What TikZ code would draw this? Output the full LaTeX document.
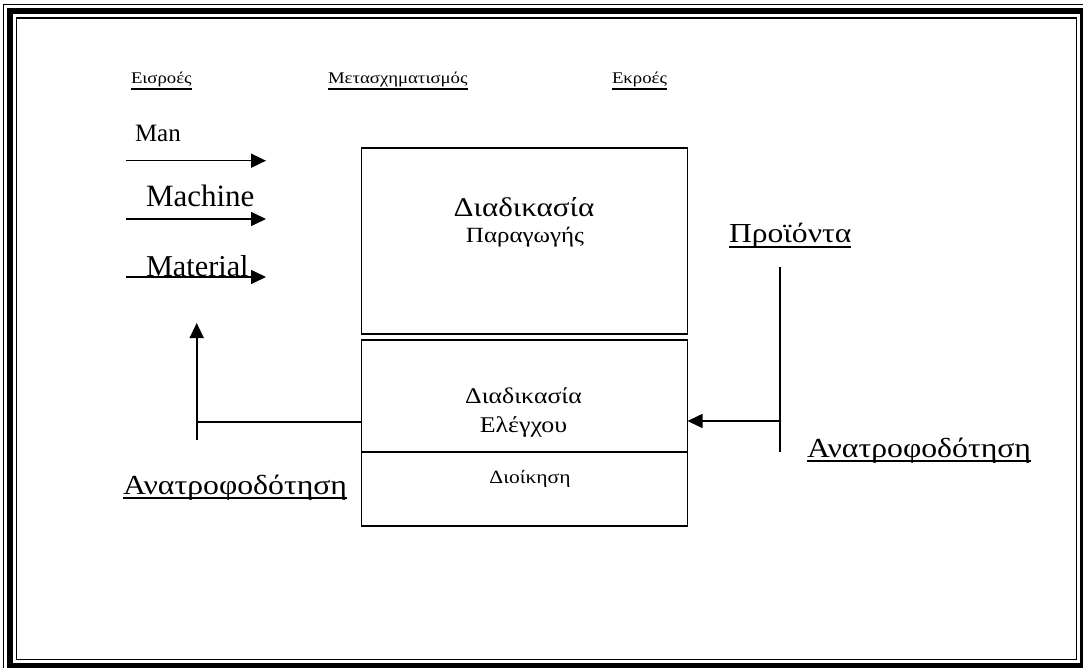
\documentclass[tikz,border=0pt]{standalone}
\usepackage{fontspec}
\setmainfont{Liberation Serif}
\newfontfamily\grk[FakeStretch=1.15]{Liberation Serif}
\usetikzlibrary{arrows.meta}
\begin{document}
\begin{tikzpicture}[x=1pt,y=-1pt,
  box/.style={draw, line width=1.7pt, inner sep=0pt, outer sep=0pt},
  lbl/.style={inner sep=0pt, outer sep=0pt, anchor=base west},
  ctr/.style={inner sep=0pt, outer sep=0pt, anchor=base},
  fs/.style={font=\fontsize{#1}{#1}\selectfont},
  gfs/.style={font=\grk\fontsize{#1}{#1}\selectfont},
  flow/.style={line width=1.6pt, -{Triangle[length=15pt,width=14pt]}},
  wire/.style={line width=1.6pt},
  uline/.style={line width=1.4pt},
]
\newcommand\underrule[2]{\draw[uline] ([yshift=-#2pt]#1.base west) -- ([yshift=-#2pt]#1.base east);}
\useasboundingbox (0,0) rectangle (1083,668);
\clip (0,0) rectangle (1083,668);

% page frame: thin, thick, thin
\draw[line width=1.3pt] (3.5,4.5) rectangle (1089.5,672.5);
\draw[line width=6pt] (10,11.5) rectangle (1083,666);
\draw[line width=1.5pt] (16.3,17.8) rectangle (1076.5,659.5);

% column headings
\node[lbl,gfs=16.3] (hin) at (131,84) {Εισροές};
\node[lbl,gfs=16.3] (htr) at (328,84) {Μετασχηματισμός};
\node[lbl,gfs=16.3] (hout) at (612,84) {Εκροές};
\underrule{hin}{5}
\underrule{htr}{5}
\underrule{hout}{5}

% inputs
\node[lbl,fs=25] (man) at (135,142) {Man};
\node[lbl,fs=31] (mach) at (146,206.5) {Machine};
\node[lbl,fs=30.3] (mat) at (146,276.5) {Material};
\coordinate (manS) at (126,160.7);  \coordinate (manE) at (266,160.7);
\coordinate (machS) at (126,219);   \coordinate (machE) at (266,219);
\coordinate (matS) at (126,277);    \coordinate (matE) at (266,277);
\draw[flow] (manS) -- (manE);
\draw[flow] (machS) -- (machE);
\draw[flow] (matS) -- (matE);

% process blocks
\node[box, minimum width=326pt, minimum height=186pt] (prod) at (524.5,241) {};
\node[box, minimum width=326pt, minimum height=112pt] (ctrl) at (524.5,396) {};
\node[box, minimum width=326pt, minimum height=74pt] (mgmt) at (524.5,489) {};

\node[ctr,gfs=27] (prodA) at (524,217) {Διαδικασία};
\node[ctr,gfs=21.7] (prodB) at (525,243) {Παραγωγής};
\node[ctr,gfs=22.4] (ctrlA) at (523.5,403) {Διαδικασία};
\node[ctr,gfs=22.5] (ctrlB) at (523.5,432) {Ελέγχου};
\node[ctr,gfs=18.7] (mgmtA) at (530,483) {Διοίκηση};

% outputs
\node[lbl,gfs=27.5] (prod2) at (729,243) {Προϊόντα};
\underrule{prod2}{4}
\node[lbl,gfs=27.6] (fbR) at (807,457) {Ανατροφοδότηση};
\underrule{fbR}{4}
\node[lbl,gfs=27.6] (fbL) at (123,494) {Ανατροφοδότηση};
\underrule{fbL}{4}

% feedback loop, right side
\coordinate (rTop) at (780,266.7);
\coordinate (rBot) at (780,451.7);
\coordinate (rJoin) at (780,421);
\draw[wire] (rTop) -- (rBot);
\draw[flow] (rJoin) -- (ctrl.east |- rJoin);

% feedback loop, left side
\coordinate (lTip) at (196.7,323);
\coordinate (lBot) at (196.7,440);
\coordinate (lJoin) at (196.7,421.7);
\draw[flow] (lBot) -- (lTip);
\draw[wire] (ctrl.west |- lJoin) -- (lJoin);
\end{tikzpicture}
\end{document}
